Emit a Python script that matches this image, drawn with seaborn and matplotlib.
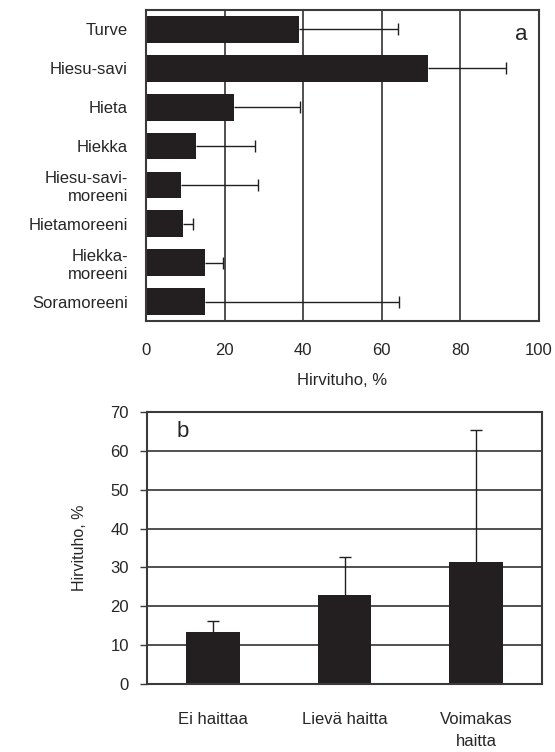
import matplotlib
matplotlib.use("Agg")
import matplotlib.pyplot as plt
import seaborn as sns
import pandas as pd

# ---- data (panel a) ----
soil_types = ["Turve", "Hiesu-savi", "Hieta", "Hiekka", "Hiesu-savi-\nmoreeni",
              "Hietamoreeni", "Hiekka-\nmoreeni", "Soramoreeni"]
damage_a = [39.0, 71.7, 22.3, 12.6, 8.8, 9.5, 15.0, 15.0]
err_a = [25.2, 19.8, 17.0, 15.1, 19.8, 2.5, 4.6, 49.5]
xticks_a = [0, 20, 40, 60, 80, 100]

# ---- data (panel b) ----
hindrance = ["Ei haittaa", "Lievä haitta", "Voimakas\nhaitta"]
damage_b = [13.4, 22.8, 31.4]
err_b = [2.9, 10.0, 34.0]
yticks_b = [0, 10, 20, 30, 40, 50, 60, 70]

sns.set_style("white")
plt.rcParams['font.family'] = ['Liberation Sans', 'DejaVu Sans']

BAR = '#231F20'
SPINE = '#3a3a3a'
FS = 12
W, H = 555, 752
fig = plt.figure(figsize=(W / 100, H / 100), dpi=100)

# ---------- panel a ----------
axa = fig.add_axes([146 / W, 1 - 321 / H, (539 - 146) / W, (321 - 10) / H])
dfa = pd.DataFrame({"soil": soil_types, "val": damage_a})
sns.barplot(data=dfa, x="val", y="soil", orient="h", color=BAR, saturation=1,
            width=0.69, errorbar=None, edgecolor=BAR, linewidth=0, ax=axa)
eb = axa.errorbar(damage_a, range(len(soil_types)), xerr=[[0] * len(err_a), err_a],
                  fmt='none', ecolor=BAR, elinewidth=1.0, capsize=4.5, capthick=1.0)
eb[1][0].set_visible(False)
axa.set_xlim(0, 100)
axa.set_ylim(len(soil_types) - 0.5, -0.5)
axa.set_xticks(xticks_a)
axa.set_axisbelow(True)
axa.xaxis.grid(True, color=BAR, linewidth=1.1)
axa.yaxis.grid(False)
axa.set_xlabel("Hirvituho, %", fontsize=FS, labelpad=11)
axa.set_ylabel("")
axa.tick_params(axis='x', length=3, width=1, color=SPINE, pad=13, labelsize=FS)
axa.tick_params(axis='y', length=0, pad=13, labelsize=FS)
for lab in axa.get_yticklabels():
    lab.set_linespacing(1.2)
for s in axa.spines.values():
    s.set_visible(True)
    s.set_color(SPINE)
    s.set_linewidth(1.5)
axa.text(0.955, 0.92, "a", transform=axa.transAxes, fontsize=16,
         ha='center', va='center')

# ---------- panel b ----------
axb = fig.add_axes([147 / W, 1 - 684 / H, (542 - 147) / W, (684 - 412) / H])
dfb = pd.DataFrame({"cls": hindrance, "val": damage_b})
sns.barplot(data=dfb, x="cls", y="val", color=BAR, saturation=1,
            width=0.41, errorbar=None, edgecolor=BAR, linewidth=0, ax=axb)
eb = axb.errorbar(range(len(hindrance)), damage_b, yerr=[[0] * len(err_b), err_b],
                  fmt='none', ecolor=BAR, elinewidth=1.0, capsize=4.5, capthick=1.0)
eb[1][0].set_visible(False)
axb.set_xlim(-0.5, len(hindrance) - 0.5)
axb.set_ylim(0, 70)
axb.set_yticks(yticks_b)
axb.set_axisbelow(True)
axb.yaxis.grid(True, color=BAR, linewidth=1.1)
axb.xaxis.grid(False)
axb.set_ylabel("Hirvituho, %", fontsize=11.5, labelpad=17)
axb.set_xlabel("")
axb.tick_params(axis='y', length=5, width=1, color=SPINE, pad=8, labelsize=FS, left=True)
axb.tick_params(axis='x', length=0, pad=20, labelsize=FS)
for lab in axb.get_xticklabels():
    lab.set_linespacing(1.6)
    lab.set_va('top')
for s in axb.spines.values():
    s.set_visible(True)
    s.set_color(SPINE)
    s.set_linewidth(1.5)
axb.text(0.09, 0.93, "b", transform=axb.transAxes, fontsize=16,
         ha='center', va='center')

fig.savefig("out.png", dpi=100)
